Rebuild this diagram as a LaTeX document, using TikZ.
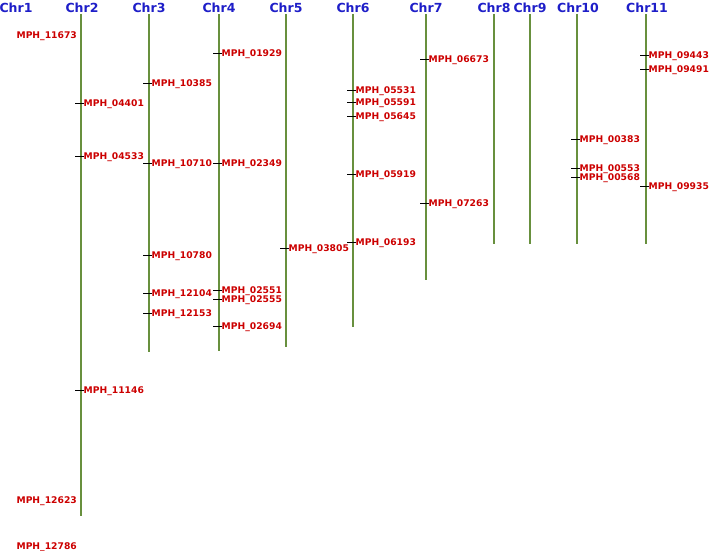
\documentclass[tikz,border=0pt]{standalone}
\usepackage{fontspec}
\setmainfont{DejaVu Sans}
\definecolor{chrblue}{RGB}{30,30,200}
\definecolor{mred}{RGB}{204,0,0}
\definecolor{bargreen}{RGB}{104,144,62}
\begin{document}
\begin{tikzpicture}[x=1pt,y=-1pt,
  chrlab/.style={font=\fontsize{12.5}{14}\selectfont\bfseries, text=chrblue, inner sep=0pt, anchor=center},
  mlab/.style={font=\fontsize{9.2}{10}\selectfont\bfseries, text=mred, inner sep=0pt, text depth=0pt, anchor=west},
  bar/.style={draw=bargreen, line width=2.3pt},
  tick/.style={draw=black, line width=0.9pt}]
\useasboundingbox (0,0) rectangle (709,551);
% chromosome labels
\foreach \n/\x in {1/16,2/82,3/149,4/219,5/286,6/353,7/426,8/494,9/530,10/578,11/647}{
  \node[chrlab] (L\n) at (\x,7.5) {Chr\n};
}
% bars
\foreach \n/\x/\e in {2/81/516,3/149/352,4/219/351,5/286/347,6/353/327,7/426/280,8/494/244,9/530/244,10/577/244,11/646/244}{
  \coordinate (T\n) at (\x,14);
  \coordinate (B\n) at (\x,\e);
  \draw[bar] (T\n) -- (B\n);
}
% Chr1 labels (no bar)
\node[mlab, anchor=east] (m11673) at (77,35) {MPH\_11673};
\node[mlab, anchor=east] (m12623) at (77,500) {MPH\_12623};
\node[mlab, anchor=east] (m12786) at (77,546) {MPH\_12786};
% markers with ticks
\foreach \x/\y/\t in {
 81/103/04401, 81/156/04533, 81/390/11146,
 149/83/10385, 149/163/10710, 149/255/10780, 149/293/12104, 149/313/12153,
 219/53/01929, 219/163/02349, 219/290/02551, 219/299/02555, 219/326/02694,
 286/248/03805,
 353/90/05531, 353/102/05591, 353/116/05645, 353/174/05919, 353/242/06193,
 426/59/06673, 426/203/07263,
 577/139/00383, 577/168/00553, 577/177/00568,
 646/55/09443, 646/69/09491, 646/186/09935}{
  \coordinate (k\t) at (\x-6,\y);
  \node[mlab] (m\t) at (\x+2.5,\y) {MPH\_\t};
  \draw[tick] (k\t) -- (m\t.west);
}
\end{tikzpicture}
\end{document}
